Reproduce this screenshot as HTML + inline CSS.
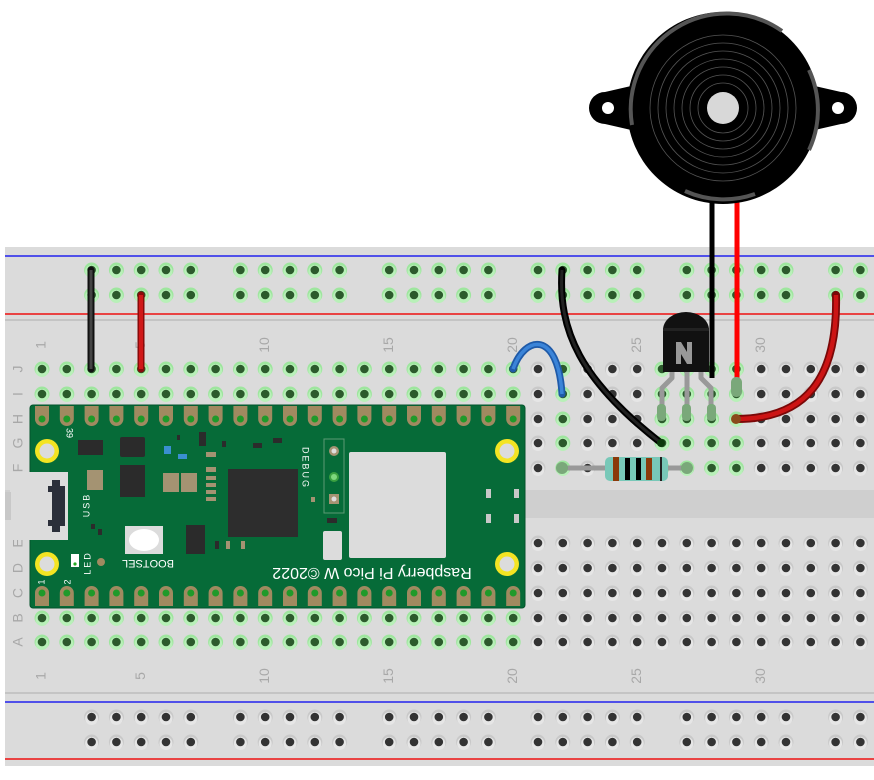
<!DOCTYPE html>
<html><head><meta charset="utf-8"><style>
html,body{margin:0;padding:0;background:#fff;width:874px;height:780px;overflow:hidden}
svg{display:block}
text{font-family:"Liberation Sans","DejaVu Sans",sans-serif}
</style></head><body>
<svg id="s" width="874" height="780" viewBox="0 0 874 780" xmlns="http://www.w3.org/2000/svg">
<rect x="5" y="247" width="869" height="519" fill="#dbdbdb"/>
<line x1="5" y1="256" x2="874" y2="256" stroke="#2222ee" stroke-width="1.5"/>
<line x1="5" y1="314" x2="874" y2="314" stroke="#ee1111" stroke-width="1.5"/>
<line x1="5" y1="320" x2="874" y2="320" stroke="#bdbdbd" stroke-width="1.5"/>
<rect x="5" y="490" width="869" height="28" fill="#cfcfcf"/>
<line x1="5" y1="693" x2="874" y2="693" stroke="#bdbdbd" stroke-width="1.5"/>
<line x1="5" y1="702" x2="874" y2="702" stroke="#2222ee" stroke-width="1.5"/>
<line x1="5" y1="759" x2="874" y2="759" stroke="#ee1111" stroke-width="1.5"/>
<g id="holes"></g>
<g id="labels" fill="#a8a8a8" font-size="14"></g>

<rect x="30" y="405" width="495" height="203" rx="3" fill="#066b38" stroke="#04532b"/>
<g id="pins"></g>
<rect x="10" y="472" width="58" height="68" fill="#dcdcdc"/>
<rect x="5" y="492" width="6" height="28" fill="#c8c8c8"/>
<path d="M52,480 h8 v6 h5 v40 h-5 v6 h-8 v-6 h-4 v-6 h4 v-28 h-4 v-6 h4z" fill="#2b2f3a"/>
<circle cx="47" cy="451" r="12" fill="#f4e423"/><circle cx="47" cy="451" r="7.5" fill="#dcdcdc"/>
<circle cx="47" cy="564" r="12" fill="#f4e423"/><circle cx="47" cy="564" r="7.5" fill="#dcdcdc"/>
<circle cx="507" cy="451" r="12" fill="#f4e423"/><circle cx="507" cy="451" r="7.5" fill="#dcdcdc"/>
<circle cx="507" cy="564" r="12" fill="#f4e423"/><circle cx="507" cy="564" r="7.5" fill="#dcdcdc"/>
<rect x="78" y="440" width="25" height="15" fill="#2b2b2b"/>
<rect x="120" y="437" width="25" height="20" rx="2" fill="#2b2b2b"/>
<rect x="120" y="465" width="25" height="32" fill="#2b2b2b"/>
<rect x="87" y="470" width="16" height="20" fill="#a49372"/>
<rect x="163" y="473" width="16" height="19" fill="#a49372"/><rect x="181" y="473" width="16" height="19" fill="#a49372"/>
<rect x="164" y="446" width="7" height="8" fill="#3a8fd0"/><rect x="178" y="454" width="9" height="5" fill="#3a8fd0"/>
<rect x="199" y="432" width="7" height="14" fill="#2b2b2b"/>
<rect x="228" y="469" width="70" height="68" fill="#2d2d2d"/>
<rect x="125" y="526" width="38" height="28" fill="#dcdcdc"/><ellipse cx="144" cy="540" rx="15" ry="11" fill="#fff"/>
<rect x="186" y="525" width="19" height="29" fill="#2b2b2b"/>
<rect x="71" y="554" width="8" height="13" fill="#fff"/><circle cx="75" cy="564" r="1.6" fill="#22aa22"/>
<circle cx="101" cy="562" r="4" fill="#a08a60"/>
<g fill="#a49372"><rect x="206" y="452" width="10" height="5"/><rect x="206" y="467" width="10" height="5"/><rect x="206" y="476" width="10" height="4"/><rect x="206" y="483" width="10" height="4"/><rect x="206" y="490" width="10" height="4"/><rect x="206" y="497" width="10" height="4"/><rect x="226" y="541" width="4" height="8"/><rect x="241" y="541" width="4" height="8"/><rect x="311" y="497" width="4" height="5"/></g>
<g fill="#2b2b2b"><rect x="177" y="435" width="3" height="5"/><rect x="222" y="441" width="4" height="6"/><rect x="253" y="443" width="9" height="5"/><rect x="273" y="438" width="9" height="5"/><rect x="215" y="541" width="4" height="8"/><rect x="91" y="524" width="4" height="5"/><rect x="98" y="529" width="4" height="6"/><rect x="327" y="518" width="10" height="5"/></g>
<rect x="324" y="439" width="20" height="74" fill="none" stroke="#5c9a74"/>
<circle cx="334" cy="451" r="5" fill="#a49372"/><circle cx="334" cy="451" r="2.5" fill="#ddd"/>
<circle cx="334" cy="477" r="5" fill="#3aa040"/><circle cx="334" cy="477" r="3" fill="#7ed87e"/>
<rect x="329" y="494" width="10" height="10" fill="#a49372"/><circle cx="334" cy="499" r="2.5" fill="#ddd"/>
<rect x="323" y="531" width="19" height="29" rx="2" fill="#dcdcdc"/>
<rect x="349" y="452" width="97" height="106" rx="2" fill="#dcdcdc"/>
<g fill="#c8c8c8"><rect x="486" y="489" width="5" height="9"/><rect x="514" y="489" width="5" height="9"/><rect x="486" y="514" width="5" height="9"/><rect x="514" y="514" width="5" height="9"/></g>
<g fill="#fff">
<text transform="translate(372,572) rotate(180)" font-size="16" text-anchor="middle" dominant-baseline="middle">Raspberry Pi Pico W ©2022</text>
<text transform="translate(148,563) rotate(180)" font-size="11" text-anchor="middle" dominant-baseline="middle">BOOTSEL</text>
<text transform="translate(305,468) rotate(90)" font-size="9" letter-spacing="2" text-anchor="middle" dominant-baseline="middle">DEBUG</text>
<text transform="translate(87,505) rotate(-90)" font-size="9" letter-spacing="2" text-anchor="middle" dominant-baseline="middle">USB</text>
<text transform="translate(88,563) rotate(-90)" font-size="9" letter-spacing="2" text-anchor="middle" dominant-baseline="middle">LED</text>
<text transform="translate(69,433) rotate(90)" font-size="9" text-anchor="middle" dominant-baseline="middle">39</text>
<text transform="translate(42,582) rotate(-90)" font-size="9" text-anchor="middle" dominant-baseline="middle">1</text>
<text transform="translate(68,582) rotate(-90)" font-size="9" text-anchor="middle" dominant-baseline="middle">2</text>
</g>

<line x1="91" y1="270" x2="91" y2="369" stroke="#111" stroke-width="7" stroke-linecap="round"/>
<line x1="91" y1="270" x2="91" y2="369" stroke="#444" stroke-width="3"/>
<line x1="141" y1="295" x2="141" y2="369" stroke="#8a0a0a" stroke-width="7" stroke-linecap="round"/>
<line x1="141" y1="295" x2="141" y2="369" stroke="#d01818" stroke-width="4"/>
<path d="M513,369 C525,335 558,330 562,394" fill="none" stroke="#1f5aa8" stroke-width="7" stroke-linecap="round"/>
<path d="M513,369 C525,335 558,330 562,394" fill="none" stroke="#3b84d8" stroke-width="3.5"/>
<line x1="562" y1="468" x2="687" y2="468" stroke="#999" stroke-width="5"/>
<circle cx="562" cy="468" r="6" fill="#7aa87a"/><circle cx="687" cy="468" r="6" fill="#7aa87a"/>
<rect x="605" y="457" width="63" height="24" rx="5" fill="#78c8b8"/>
<rect x="613" y="457" width="6" height="24" fill="#8b3a0a"/><rect x="625" y="458" width="5" height="22" fill="#000"/><rect x="636" y="458" width="5" height="22" fill="#000"/><rect x="646" y="458" width="6" height="22" fill="#8b3a0a"/><rect x="660" y="457" width="2" height="24" fill="#222"/>
<g stroke="#999" stroke-width="5" fill="none" stroke-linejoin="round">
<path d="M672,370 L672,378 L662,388 L662,419"/><path d="M687,370 L687,419"/><path d="M701,370 L701,378 L711,388 L711,419"/></g>
<g fill="#7aa87a"><rect x="657" y="404" width="9" height="17" rx="4"/><rect x="682" y="404" width="9" height="17" rx="4"/><rect x="707" y="404" width="9" height="17" rx="4"/></g>
<line x1="712" y1="200" x2="712" y2="378" stroke="#000" stroke-width="5"/>
<line x1="737" y1="200" x2="737" y2="390" stroke="#ff0000" stroke-width="5"/>
<rect x="731" y="377" width="11" height="20" rx="5" fill="#7aa87a"/>
<path d="M663,372 V330 A23,18 0 0 1 709,330 V372 Z" fill="#111"/>
<rect x="663" y="328" width="46" height="3" fill="#222"/>
<path d="M676,342 h5 l6,10 v-10 h5 v22 h-5 l-6,-10 v10 h-5z" fill="#999"/>
<path d="M562,270 C558,330 580,380 661,443" fill="none" stroke="#000" stroke-width="7" stroke-linecap="round"/>
<path d="M562,270 C558,330 580,380 661,443" fill="none" stroke="#222" stroke-width="3"/>
<circle cx="661" cy="443" r="4" fill="#0a3a0a"/>
<path d="M736,419 C805,419 838,380 836,295" fill="none" stroke="#7a0808" stroke-width="8" stroke-linecap="round"/>
<path d="M736,419 C805,419 838,380 836,295" fill="none" stroke="#cc1414" stroke-width="4.5"/>
<circle cx="736" cy="419" r="5" fill="#8a4a1a"/>
<path d="M640,84 L605,92 A16,16 0 0 0 605,124 L640,132 Z" fill="#000"/>
<path d="M806,84 L841,92 A16,16 0 0 1 841,124 L806,132 Z" fill="#000"/>
<circle cx="608" cy="108" r="6" fill="#fff"/><circle cx="838" cy="108" r="6" fill="#fff"/>
<circle cx="723" cy="108" r="96" fill="#000"/>
<path d="M629,125 A96,96 0 0 1 779,31" fill="none" stroke="#555" stroke-width="4" transform="translate(3,0)"/>
<path d="M809,70 A94,94 0 0 1 809,150" fill="none" stroke="#555" stroke-width="4"/>
<path d="M685,191 A94,94 0 0 0 755,194" fill="none" stroke="#555" stroke-width="4"/>
<g fill="none" stroke="#555" stroke-width="0.8">
<circle cx="723" cy="108" r="73"/><circle cx="723" cy="108" r="65"/><circle cx="723" cy="108" r="57"/><circle cx="723" cy="108" r="49"/><circle cx="723" cy="108" r="41"/><circle cx="723" cy="108" r="33"/><circle cx="723" cy="108" r="25"/></g>
<circle cx="723" cy="108" r="16" fill="#d8d8d8"/>
</svg>
<script>
(function(){
var NS="http://www.w3.org/2000/svg",H=document.getElementById("holes"),P=document.getElementById("pins"),L=document.getElementById("labels");
function cx(c){return 42+(c-1)*24.8;}
function hole(x,y,g){
 var a=document.createElementNS(NS,"circle");a.setAttribute("cx",x);a.setAttribute("cy",y);a.setAttribute("r",7.5);a.setAttribute("fill",g?"#9ee69e":"#c9c9c9");H.appendChild(a);
 var b=document.createElementNS(NS,"circle");b.setAttribute("cx",x);b.setAttribute("cy",y+1.5);b.setAttribute("r",6.5);b.setAttribute("fill",g?"#b8f0b8":"#e6e6e6");H.appendChild(b);
 var c=document.createElementNS(NS,"circle");c.setAttribute("cx",x);c.setAttribute("cy",y);c.setAttribute("r",4.3);c.setAttribute("fill",g?"#2c5a2c":"#333");H.appendChild(c);}
var tp=[369,394,419,443,468],bt=[543,568,593,618,642];
var gTop={22:1,26:1,27:1,28:1,29:1};
for(var c=1;c<=34;c++){
 for(var r=0;r<5;r++){hole(cx(c),tp[r],c<=20||gTop[c]);}
 for(var r=0;r<5;r++){hole(cx(c),bt[r],c<=20);}
}
for(var c=3;c<=34;c++){ if((c-3)%6==5) continue;
 hole(cx(c),270,true);hole(cx(c),295,true);hole(cx(c),717,false);hole(cx(c),742,false);}
for(var c=1;c<=20;c++){(function(x){[419,593].forEach(function(y,i){
 var p=document.createElementNS(NS,"path");
 var d=i==0?"M"+(x-7)+","+(y-13)+" h14 v13 a7,7 0 0 1 -14,0z":"M"+(x-7)+","+(y+13)+" v-13 a7,7 0 0 1 14,0 v13z";
 p.setAttribute("d",d);p.setAttribute("fill","#a08a60");P.appendChild(p);
 var q=document.createElementNS(NS,"circle");q.setAttribute("cx",x);q.setAttribute("cy",y);q.setAttribute("r",3.5);q.setAttribute("fill","#1f9a2a");P.appendChild(q);});})(cx(c));}
function txt(x,y,s){var t=document.createElementNS(NS,"text");t.setAttribute("transform","translate("+x+","+y+") rotate(-90)");t.setAttribute("text-anchor","middle");t.setAttribute("dominant-baseline","middle");t.textContent=s;L.appendChild(t);}
[1,5,10,15,20,25,30].forEach(function(n){txt(cx(n),345,n);txt(cx(n),676,n);});
"JIHGF".split("").forEach(function(s,i){txt(19,tp[i],s);});
"EDCBA".split("").forEach(function(s,i){txt(19,bt[i],s);});
})();
</script>
</body></html>
